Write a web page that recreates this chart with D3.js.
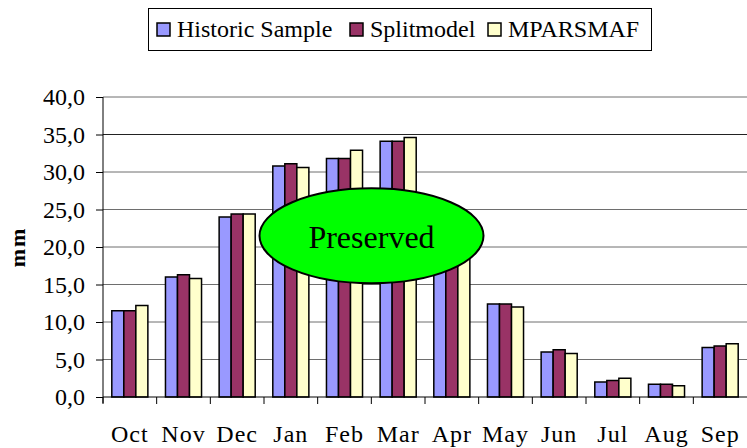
<!DOCTYPE html>
<html>
<head>
<meta charset="utf-8">
<script src="https://cdn.jsdelivr.net/npm/d3@7"></script>
<style>
  body { margin: 0; background: #fff; }
  svg text { font-family: "Liberation Serif", "Times New Roman", serif; fill: #000; }
</style>
</head>
<body>
<svg width="747" height="448"></svg>
<script>
const months = ["Oct", "Nov", "Dec", "Jan", "Feb", "Mar", "Apr", "May", "Jun", "Jul", "Aug", "Sep"];
const seriesNames = ["Historic Sample", "Splitmodel", "MPARSMAF"];
const historic   = [11.5, 16.0, 24.0, 30.8, 31.8, 34.1, 21.0, 12.4, 6.0, 2.0, 1.7, 6.6];
const splitmodel = [11.5, 16.3, 24.4, 31.1, 31.8, 34.1, 21.3, 12.4, 6.3, 2.2, 1.7, 6.8];
const mparsmaf   = [12.2, 15.8, 24.4, 30.6, 32.9, 34.6, 21.0, 12.0, 5.8, 2.5, 1.5, 7.1];
const yTicks = [0, 5, 10, 15, 20, 25, 30, 35, 40];
const colors = ["#9999ff", "#993366", "#ffffcc"];

const series = [historic, splitmodel, mparsmaf];
const svg = d3.select("svg");

const plotL = 103, plotR = 747, plotT = 97, plotB = 397;

const x0 = d3.scaleBand().domain(months).range([plotL, plotR]).padding(0);
const step = x0.step();
const x1 = d3.scaleBand().domain(d3.range(3)).range([8.8, step - 8.8]).padding(0);
const y = d3.scaleLinear().domain([0, 40]).range([plotB, plotT]);

const fmt = d3.formatLocale({ decimal: ",", thousands: ".", grouping: [3], currency: ["", ""] }).format(".1f");

// gridlines
svg.append("g").selectAll("line")
  .data(yTicks.filter(d => d > 0))
  .join("line")
  .attr("x1", plotL).attr("x2", plotR)
  .attr("y1", d => y(d)).attr("y2", d => y(d))
  .attr("stroke", d => d === 35 ? "#222" : "#6e6e6e").attr("stroke-width", 1);

// bars
const groups = svg.append("g").selectAll("g")
  .data(months)
  .join("g")
  .attr("transform", d => `translate(${x0(d)},0)`);

groups.selectAll("rect")
  .data((m, i) => series.map((s, k) => ({ k, v: s[i] })))
  .join("rect")
  .attr("x", d => x1(d.k))
  .attr("width", x1.bandwidth())
  .attr("y", d => y(d.v))
  .attr("height", d => y(0) - y(d.v))
  .attr("fill", d => colors[d.k])
  .attr("stroke", "#000")
  .attr("stroke-width", 1.5);

// y axis
const yAxis = d3.axisLeft(y).tickValues(yTicks).tickFormat(fmt).tickSize(7).tickPadding(11);
svg.append("g")
  .attr("transform", `translate(${plotL},0)`)
  .call(yAxis)
  .attr("font-family", null)
  .attr("font-size", 24)
  .call(g => g.select(".domain").attr("d", `M0,${plotT}V${plotB + 6}`).attr("stroke", "#000"));

// x axis
const xAxisG = svg.append("g");
xAxisG.append("line")
  .attr("x1", plotL).attr("x2", plotR)
  .attr("y1", plotB).attr("y2", plotB)
  .attr("stroke", "#000");
xAxisG.selectAll("line.tick")
  .data(months)
  .join("line")
  .attr("class", "tick")
  .attr("x1", d => x0(d)).attr("x2", d => x0(d))
  .attr("y1", plotB).attr("y2", plotB + 7)
  .attr("stroke", "#000");
xAxisG.selectAll("text")
  .data(months)
  .join("text")
  .attr("x", d => x0(d) + step / 2)
  .attr("y", 442)
  .attr("text-anchor", "middle")
  .attr("font-size", 24)
  .attr("letter-spacing", 1)
  .text(d => d);

// y title
svg.append("text")
  .attr("transform", "translate(25,247) rotate(-90)")
  .attr("text-anchor", "middle")
  .attr("font-size", 22)
  .attr("font-weight", "bold")
  .attr("letter-spacing", 2)
  .text("mm");

// legend
const legend = svg.append("g");
legend.append("rect")
  .attr("x", 148.5).attr("y", 8.5)
  .attr("width", 503).attr("height", 42)
  .attr("fill", "#fff").attr("stroke", "#000");
const legendX = [157, 350, 488];
seriesNames.forEach((name, k) => {
  legend.append("rect")
    .attr("x", legendX[k]).attr("y", 23)
    .attr("width", 13).attr("height", 13)
    .attr("fill", colors[k]).attr("stroke", "#000").attr("stroke-width", 1.5);
  legend.append("text")
    .attr("x", legendX[k] + 20).attr("y", 37)
    .attr("font-size", 24)
    .text(name);
});

// annotation
svg.append("ellipse")
  .attr("cx", 371.5).attr("cy", 235.8)
  .attr("rx", 112).attr("ry", 47.5)
  .attr("fill", "#00ff00").attr("stroke", "#000").attr("stroke-width", 2);
svg.append("text")
  .attr("x", 371.5).attr("y", 248)
  .attr("text-anchor", "middle")
  .attr("font-size", 32)
  .text("Preserved");
</script>
</body>
</html>
